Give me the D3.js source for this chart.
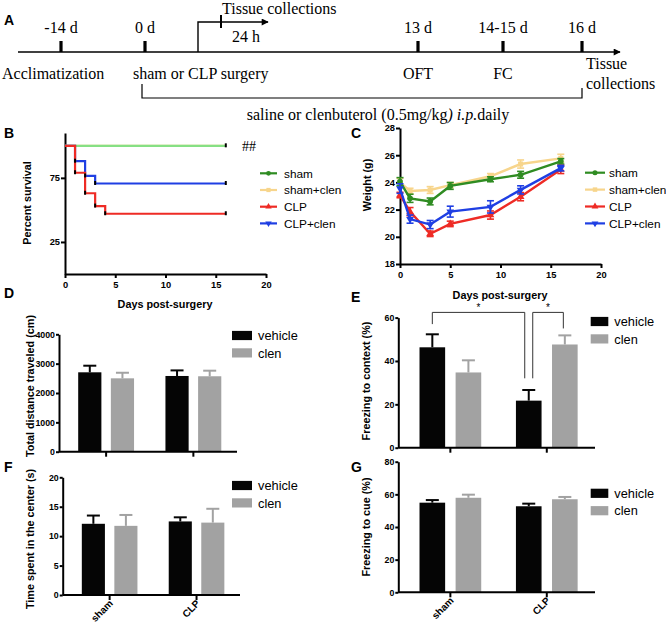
<!DOCTYPE html>
<html><head><meta charset="utf-8">
<script src="https://cdn.jsdelivr.net/npm/d3@7"></script>
<style>body{margin:0;background:#fff}svg{display:block}</style>
</head><body>
<svg id="c" width="666" height="624"></svg>
<script>
// ---------------- DATA ----------------
const tlDayLabels = ["-14 d", "0 d", "13 d", "14-15 d", "16 d"];
const tlEventLabels = ["Acclimatization", "sham or CLP surgery", "OFT", "FC"];

const survDaysSham = [0, 16], survSham = [100, 100];
const survDaysShamClen = [0, 16], survShamClen = [100, 100];
const survDaysCLP = [0, 1, 2, 3, 4, 16], survCLP = [100, 79, 63, 53, 47, 47];
const survDaysCLPclen = [0, 1, 2, 3, 16], survCLPclen = [100, 88, 76.5, 70.6, 70.6];
const survXTicks = [0, 5, 10, 15, 20], survYTicks = [25, 75];

const weightDays = [0, 1, 3, 5, 9, 12, 16];
const wSham = [24.05, 22.83, 22.6, 23.74, 24.23, 24.56, 25.55];
const wShamSem = [0.3, 0.3, 0.25, 0.25, 0.18, 0.25, 0.2];
const wShamClen = [24.0, 23.37, 23.44, 23.8, 24.45, 25.35, 25.77];
const wShamClenSem = [0.3, 0.2, 0.25, 0.2, 0.2, 0.3, 0.3];
const wCLP = [23.07, 21.85, 20.22, 20.95, 21.6, 22.95, 24.95];
const wCLPSem = [0.2, 0.3, 0.2, 0.2, 0.3, 0.3, 0.3];
const wCLPclen = [23.55, 21.3, 20.9, 21.85, 22.2, 23.45, 25.05];
const wCLPclenSem = [0.35, 0.3, 0.3, 0.4, 0.45, 0.3, 0.2];
const weightXTicks = [0, 5, 10, 15, 20], weightYTicks = [18, 20, 22, 24, 26, 28];

const seriesNames = ["sham", "sham+clen", "CLP", "CLP+clen"];
const groups = ["sham", "CLP"];
const barSeries = ["vehicle", "clen"];

const distVehicle = [2705, 2580], distVehicleSem = [225, 190];
const distClen = [2500, 2570], distClenSem = [190, 190];
const ctxVehicle = [46.3, 21.7], ctxVehicleSem = [6.0, 4.9];
const ctxClen = [34.7, 47.6], ctxClenSem = [5.6, 4.2];
const centerVehicle = [12.1, 12.5], centerVehicleSem = [1.4, 0.7];
const centerClen = [11.75, 12.3], centerClenSem = [1.85, 2.35];
const cueVehicle = [54.9, 52.7], cueVehicleSem = [1.6, 1.6];
const cueClen = [57.9, 57.0], cueClenSem = [1.9, 1.4];

// ---------------- STYLE ----------------
const SANS = "'Liberation Sans', Arial, sans-serif";
const SERIF = "'Liberation Serif', 'Times New Roman', serif";
const colGreen = "#2f8c22", colGreenLight = "#86e084", colYellow = "#f7d58c",
      colRed = "#ee2b25", colBlue = "#1f3fe3";
const colVeh = "#050505", colClen = "#a2a2a2";
const TICK_FS = 9.3, TITLE_FS = 10.8;

const svg = d3.select("#c");

function txt(g, x, y, s, o = {}) {
  return g.append("text").attr("x", x).attr("y", y).text(s)
    .attr("font-family", o.family || SANS).attr("font-size", o.size || 12)
    .attr("font-weight", o.weight || "normal").attr("text-anchor", o.anchor || "start")
    .attr("fill", "#000");
}
function letter(x, y, s) { txt(svg, x, y, s, { size: 14, weight: "bold" }); }
function yTitle(g, x, y, s) {
  g.append("text").attr("transform", `translate(${x},${y}) rotate(-90)`).attr("text-anchor", "middle")
    .attr("font-family", SANS).attr("font-size", TITLE_FS).attr("font-weight", "bold").attr("fill", "#000").text(s);
}

function styleAxis(g) {
  g.select(".domain").attr("stroke", "#000").attr("stroke-width", 2);
  g.selectAll(".tick line").attr("stroke", "#000").attr("stroke-width", 2);
  g.selectAll(".tick text").attr("font-family", SANS).attr("font-size", TICK_FS)
    .attr("font-weight", "bold").attr("fill", "#000");
}
const fmt = d3.format("d");

// ---------------- PANEL A (timeline) ----------------
(function () {
  const g = svg.append("g");
  const xPos = d3.scaleOrdinal().domain(tlDayLabels).range([61, 145, 418, 503, 582]);
  const yLine = 52;
  svg.append("defs").append("marker").attr("id", "arr").attr("viewBox", "0 0 10 10")
    .attr("refX", 9).attr("refY", 5).attr("markerWidth", 9).attr("markerHeight", 7)
    .attr("markerUnits", "userSpaceOnUse").attr("orient", "auto")
    .append("path").attr("d", "M0,0L10,5L0,10z").attr("fill", "#000");
  g.append("line").attr("x1", 18).attr("x2", 620).attr("y1", yLine).attr("y2", yLine)
    .attr("stroke", "#000").attr("stroke-width", 1.4).attr("marker-end", "url(#arr)");
  tlDayLabels.forEach(d => {
    g.append("line").attr("x1", xPos(d)).attr("x2", xPos(d)).attr("y1", 41).attr("y2", yLine)
      .attr("stroke", "#000").attr("stroke-width", 3.2);
    txt(g, xPos(d), 33, d, { family: SERIF, size: 16, anchor: "middle" });
  });
  txt(g, 2, 79, tlEventLabels[0], { family: SERIF, size: 16 });
  txt(g, 133, 79, tlEventLabels[1], { family: SERIF, size: 16 });
  txt(g, xPos("13 d"), 79, tlEventLabels[2], { family: SERIF, size: 16, anchor: "middle" });
  txt(g, xPos("14-15 d"), 79, tlEventLabels[3], { family: SERIF, size: 16, anchor: "middle" });
  txt(g, 586, 69, "Tissue", { family: SERIF, size: 16 });
  txt(g, 586, 89, "collections", { family: SERIF, size: 16 });
  g.append("path").attr("d", "M198,52V22H268").attr("fill", "none").attr("stroke", "#000")
    .attr("stroke-width", 1.4).attr("marker-end", "url(#arr)");
  g.append("line").attr("x1", 221).attr("x2", 221).attr("y1", 15).attr("y2", 28)
    .attr("stroke", "#000").attr("stroke-width", 2);
  txt(g, 222, 14, "Tissue collections", { family: SERIF, size: 16 });
  txt(g, 232, 42, "24 h", { family: SERIF, size: 16 });
  g.append("path").attr("d", "M142,84V98H582V88").attr("fill", "none").attr("stroke", "#000").attr("stroke-width", 1.2);
  const t = txt(g, 378, 120, "", { family: SERIF, size: 16, anchor: "middle" });
  t.append("tspan").text("saline or clenbuterol  (0.5mg/kg");
  t.append("tspan").attr("font-style", "italic").text(") i.p.");
  t.append("tspan").text("daily");
  letter(4, 25, "A");
})();

// ---------------- PANEL B (survival) ----------------
(function () {
  const g = svg.append("g");
  const x = d3.scaleLinear().domain([0, 20]).range([65, 266]);
  const y = d3.scaleLinear().domain([0, 110]).range([274, 133]);
  const ax = g.append("g").attr("transform", "translate(0,274)")
    .call(d3.axisBottom(x).tickValues(survXTicks).tickSize(4).tickPadding(3).tickSizeOuter(0));
  styleAxis(ax);
  const ay = g.append("g").attr("transform", "translate(65,0)")
    .call(d3.axisLeft(y).tickValues(survYTicks).tickSize(4).tickPadding(1).tickSizeOuter(0));
  styleAxis(ay);
  const line = d3.line().curve(d3.curveStepAfter).x(d => x(d[0])).y(d => y(d[1]));
  const curves = [
    [survDaysShamClen, survShamClen, colYellow],
    [survDaysSham, survSham, colGreenLight],
    [survDaysCLPclen, survCLPclen, colBlue],
    [survDaysCLP, survCLP, colRed]
  ];
  curves.forEach(([d, v, c]) => {
    const pts = d.map((t, i) => [t, v[i]]);
    g.append("path").attr("d", line(pts)).attr("fill", "none").attr("stroke", c).attr("stroke-width", 2.2);
  });
  curves.slice(1).forEach(([d, v]) => {
    d.forEach((t, i) => {
      if (i === 0) return;
      g.append("line").attr("x1", x(t)).attr("x2", x(t)).attr("y1", y(v[i]) - 2.5).attr("y2", y(v[i]) + 1.5)
        .attr("stroke", "#000").attr("stroke-width", 2);
    });
  });
  txt(g, 242, y(100) + 5, "##", { family: SERIF, size: 14 });
  txt(g, 165, 308, "Days post-surgery", { size: TITLE_FS, weight: "bold", anchor: "middle" });
  yTitle(g, 31, 203, "Percent survival");
  const legCols = [colGreen, colYellow, colRed, colBlue];
  const legShapes = [d3.symbolCircle, d3.symbolSquare, d3.symbolTriangle, d3.symbolTriangle];
  seriesNames.forEach((s, i) => {
    const yy = 173.3 + i * 16.7;
    g.append("line").attr("x1", 260).attr("x2", 277).attr("y1", yy).attr("y2", yy).attr("stroke", legCols[i]).attr("stroke-width", 2.2);
    g.append("path").attr("d", d3.symbol().type(legShapes[i]).size(18)())
      .attr("transform", `translate(268.5,${yy}) rotate(${i === 3 ? 180 : 0})`).attr("fill", legCols[i]);
    txt(g, 284, yy + 4.3, s, { size: 11.8 });
  });
  letter(4, 138, "B");
})();

// ---------------- PANEL C (weight) ----------------
(function () {
  const g = svg.append("g");
  const x = d3.scaleLinear().domain([0, 20]).range([400, 601]);
  const y = d3.scaleLinear().domain([18, 28]).range([264, 128]);
  const ax = g.append("g").attr("transform", "translate(0,264)")
    .call(d3.axisBottom(x).tickValues(weightXTicks).tickSize(4).tickPadding(3).tickSizeOuter(0));
  styleAxis(ax);
  const ay = g.append("g").attr("transform", "translate(400,0)")
    .call(d3.axisLeft(y).tickValues(weightYTicks).tickSize(4).tickPadding(1).tickSizeOuter(0));
  styleAxis(ay);
  const sets = [
    [wShamClen, wShamClenSem, colYellow, d3.symbolSquare, 0],
    [wSham, wShamSem, colGreen, d3.symbolCircle, 0],
    [wCLP, wCLPSem, colRed, d3.symbolTriangle, 0],
    [wCLPclen, wCLPclenSem, colBlue, d3.symbolTriangle, 180]
  ];
  const line = d3.line().x((d, i) => x(weightDays[i])).y(d => y(d));
  sets.forEach(([v, sem, c, sym, rot]) => {
    g.append("path").attr("d", line(v)).attr("fill", "none").attr("stroke", c).attr("stroke-width", 2.4);
    v.forEach((m, i) => {
      const cx = x(weightDays[i]);
      g.append("line").attr("x1", cx).attr("x2", cx).attr("y1", y(m - sem[i])).attr("y2", y(m + sem[i])).attr("stroke", c).attr("stroke-width", 1.6);
      [m - sem[i], m + sem[i]].forEach(e => g.append("line").attr("x1", cx - 3.5).attr("x2", cx + 3.5).attr("y1", y(e)).attr("y2", y(e)).attr("stroke", c).attr("stroke-width", 1.6));
      g.append("path").attr("d", d3.symbol().type(sym).size(26)()).attr("transform", `translate(${cx},${y(m)}) rotate(${rot})`).attr("fill", c);
    });
  });
  txt(g, 500, 299, "Days post-surgery", { size: TITLE_FS, weight: "bold", anchor: "middle" });
  yTitle(g, 371, 185, "Weight (g)");
  const legCols = [colGreen, colYellow, colRed, colBlue];
  const legShapes = [d3.symbolCircle, d3.symbolSquare, d3.symbolTriangle, d3.symbolTriangle];
  seriesNames.forEach((s, i) => {
    const yy = 172.7 + i * 16.9;
    g.append("line").attr("x1", 585).attr("x2", 605).attr("y1", yy).attr("y2", yy).attr("stroke", legCols[i]).attr("stroke-width", 2.2);
    g.append("path").attr("d", d3.symbol().type(legShapes[i]).size(20)())
      .attr("transform", `translate(595,${yy}) rotate(${i === 3 ? 180 : 0})`).attr("fill", legCols[i]);
    txt(g, 609, yy + 4.3, s, { size: 11.8 });
  });
  letter(351, 138, "C");
})();

// ---------------- BAR PANELS ----------------
function barPanel(o) {
  const g = svg.append("g");
  const x = d3.scaleBand().domain(groups).range([o.x0, o.x1]).paddingInner(0.36).paddingOuter(0.2).align(0.55);
  const xs = d3.scaleBand().domain(barSeries).range([0, x.bandwidth()]).paddingInner(0.29);
  const y = d3.scaleLinear().domain(o.domain).range([o.yb, o.yt]);
  const data = [[o.veh, o.vehSem, colVeh], [o.clen, o.clenSem, colClen]];
  data.forEach(([vals, sem, c], si) => {
    vals.forEach((v, gi) => {
      const bx = x(groups[gi]) + xs(barSeries[si]);
      const cx = bx + xs.bandwidth() / 2;
      g.append("line").attr("x1", cx).attr("x2", cx).attr("y1", y(v)).attr("y2", y(v + sem[gi])).attr("stroke", c).attr("stroke-width", 2);
      g.append("line").attr("x1", cx - 6.5).attr("x2", cx + 6.5).attr("y1", y(v + sem[gi])).attr("y2", y(v + sem[gi])).attr("stroke", c).attr("stroke-width", 2);
      g.append("rect").attr("x", bx).attr("width", xs.bandwidth()).attr("y", y(v)).attr("height", y(0) - y(v)).attr("fill", c);
    });
  });
  const ax = g.append("g").attr("transform", `translate(0,${o.yb})`)
    .call(d3.axisBottom(x).tickSize(5).tickSizeOuter(0).tickFormat(o.labels ? (d => d) : (() => "")));
  styleAxis(ax);
  ax.select(".domain").attr("d", `M${o.x0},0H${o.x1}`);
  if (o.labels) {
    ax.selectAll(".tick text").attr("text-anchor", "end").attr("dy", 0).attr("y", 0)
      .attr("transform", "translate(4,9) rotate(-45)").attr("font-size", 10);
  }
  const ay = g.append("g").attr("transform", `translate(${o.x0},0)`)
    .call(d3.axisLeft(y).tickValues(o.ticks).tickFormat(fmt).tickSize(3).tickPadding(1).tickSizeOuter(0));
  styleAxis(ay);
  ay.selectAll(".tick text").attr("font-size", 8.8);
  yTitle(g, o.ylx, o.yly, o.ylabel);
  barSeries.forEach((s, i) => {
    const yy = o.ly + i * 17.4;
    g.append("rect").attr("x", o.lx).attr("y", yy - 4.6).attr("width", o.lw).attr("height", 9.2).attr("fill", i ? colClen : colVeh);
    txt(g, o.lx + o.lw + 6, yy + 4.6, s, { size: 12.8 });
  });
  return { g, x, xs, y };
}

barPanel({ x0: 59, x1: 237, yb: 451.7, yt: 334.3, domain: [0, 4000], ticks: [0, 1000, 2000, 3000, 4000],
  veh: distVehicle, vehSem: distVehicleSem, clen: distClen, clenSem: distClenSem, labels: false,
  ylabel: "Total distance traveled (cm)", ylx: 33.5, yly: 386, lx: 232, lw: 20, ly: 335.5 });
letter(4, 298, "D");

const pe = barPanel({ x0: 398.3, x1: 595, yb: 447.7, yt: 317.6, domain: [0, 60], ticks: [0, 20, 40, 60],
  veh: ctxVehicle, vehSem: ctxVehicleSem, clen: ctxClen, clenSem: ctxClenSem, labels: false,
  ylabel: "Freezing to context (%)", ylx: 370, yly: 381, lx: 590.7, lw: 17.6, ly: 321.5 });
letter(351, 302, "E");
(function () {
  const { g, x, xs, y } = pe;
  const c = (grp, s) => x(grp) + xs(s) + xs.bandwidth() / 2;
  const top = 62.4;
  const sigFrom = [["sham", "vehicle", 57, 0], ["CLP", "vehicle", 32, 4]];
  const sigTo = [["CLP", "vehicle", 32, -4], ["CLP", "clen", 55, -1.5]];
  sigFrom.forEach((f, i) => {
    const t = sigTo[i];
    const xa = c(f[0], f[1]) + f[3], xb = c(t[0], t[1]) + t[3];
    g.append("path").attr("d", `M${xa},${y(f[2])}V${y(top)}H${xb}V${y(t[2])}`)
      .attr("fill", "none").attr("stroke", "#333").attr("stroke-width", 1);
    txt(g, (xa + xb) / 2, y(top) - 1, "*", { size: 10, anchor: "middle" });
  });
})();

barPanel({ x0: 62.7, x1: 240, yb: 595, yt: 477.3, domain: [0, 20], ticks: [0, 5, 10, 15, 20],
  veh: centerVehicle, vehSem: centerVehicleSem, clen: centerClen, clenSem: centerClenSem, labels: true,
  ylabel: "Time spent in the center (s)", ylx: 33.5, yly: 539, lx: 232, lw: 20, ly: 485.5 });
letter(4, 472, "F");

barPanel({ x0: 398.3, x1: 595, yb: 592.3, yt: 461.7, domain: [0, 80], ticks: [0, 20, 40, 60, 80],
  veh: cueVehicle, vehSem: cueVehicleSem, clen: cueClen, clenSem: cueClenSem, labels: true,
  ylabel: "Freezing to cue (%)", ylx: 370, yly: 527, lx: 590.7, lw: 17.6, ly: 493.3 });
letter(351, 472, "G");
</script>
</body></html>
